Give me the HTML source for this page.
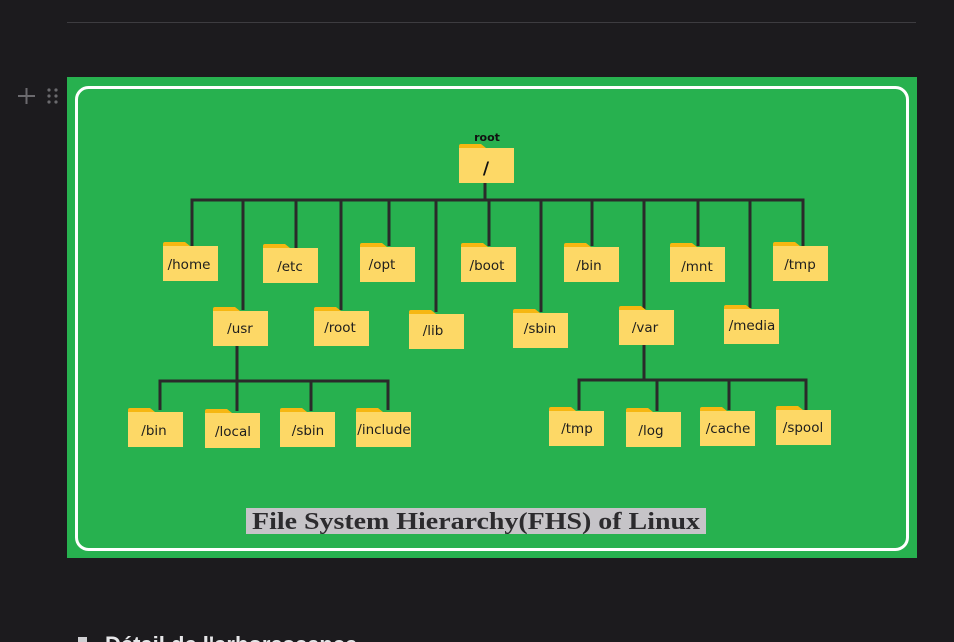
<!DOCTYPE html>
<html><head><meta charset="utf-8"><style>
html,body{margin:0;padding:0;background:#1c1b1e;width:954px;height:642px;overflow:hidden}
svg{position:absolute;left:0;top:0}
.t{font-family:"DejaVu Sans","Liberation Sans",sans-serif;font-size:13.5px;fill:#1e1e1e;text-anchor:middle}
</style></head><body>
<svg width="954" height="642" viewBox="0 0 954 642">
<defs>
<g id="f">
<path d="M0 2 Q0 0 2 0 L22 0 L27 4 L27 8 L0 8 Z" fill="#f6b712"/>
<rect x="0" y="4" width="55" height="35" fill="#fdd866"/>
</g>
</defs>
<line x1="67" y1="22.5" x2="916" y2="22.5" stroke="#3d3c40" stroke-width="1"/>
<g stroke="#6b6a6e" stroke-width="2"><line x1="18" y1="96" x2="35" y2="96"/><line x1="26.5" y1="88" x2="26.5" y2="104"/></g>
<g fill="#6b6a6e"><circle cx="49" cy="90" r="1.6"/><circle cx="56" cy="90" r="1.6"/><circle cx="49" cy="96" r="1.6"/><circle cx="56" cy="96" r="1.6"/><circle cx="49" cy="102" r="1.6"/><circle cx="56" cy="102" r="1.6"/></g>
<rect x="67" y="77" width="850" height="481" fill="#27b14f"/>
<rect x="76.5" y="87.5" width="831" height="462" rx="12" fill="none" stroke="#fff" stroke-width="3"/>
<g stroke="#2a2a2a" stroke-width="3" fill="none">
<line x1="485" y1="183" x2="485" y2="200"/>
<line x1="190.5" y1="200" x2="804.5" y2="200"/>
<line x1="192" y1="200" x2="192" y2="246"/>
<line x1="243" y1="200" x2="243" y2="310"/>
<line x1="296" y1="200" x2="296" y2="248"/>
<line x1="341" y1="200" x2="341" y2="310"/>
<line x1="389" y1="200" x2="389" y2="246"/>
<line x1="436" y1="200" x2="436" y2="312"/>
<line x1="489" y1="200" x2="489" y2="246"/>
<line x1="541" y1="200" x2="541" y2="312"/>
<line x1="592" y1="200" x2="592" y2="246"/>
<line x1="644" y1="200" x2="644" y2="310"/>
<line x1="698" y1="200" x2="698" y2="246"/>
<line x1="750" y1="200" x2="750" y2="308"/>
<line x1="803" y1="200" x2="803" y2="246"/>
<line x1="237" y1="345" x2="237" y2="381"/>
<line x1="158.5" y1="381" x2="389.5" y2="381"/>
<line x1="160" y1="381" x2="160" y2="410"/>
<line x1="237" y1="381" x2="237" y2="411"/>
<line x1="311" y1="381" x2="311" y2="411"/>
<line x1="388" y1="381" x2="388" y2="410"/>
<line x1="644" y1="343" x2="644" y2="380"/>
<line x1="577.5" y1="380" x2="807.5" y2="380"/>
<line x1="579" y1="380" x2="579" y2="410"/>
<line x1="657" y1="380" x2="657" y2="411"/>
<line x1="729" y1="380" x2="729" y2="410"/>
<line x1="806" y1="380" x2="806" y2="410"/>
</g>
<text x="487" y="141" style="font-family:'DejaVu Sans','Liberation Sans',sans-serif;font-size:11px;font-weight:bold;fill:#111;text-anchor:middle">root</text>
<use href="#f" x="459" y="144"/><text x="486" y="174" style="font-family:'DejaVu Sans',sans-serif;font-size:17px;font-weight:bold;fill:#111;text-anchor:middle">/</text>
<use href="#f" x="163" y="242"/><text class="t" x="189" y="269">/home</text>
<use href="#f" x="263" y="244"/><text class="t" x="290" y="271">/etc</text>
<use href="#f" x="360" y="243"/><text class="t" x="382" y="269">/opt</text>
<use href="#f" x="461" y="243"/><text class="t" x="487" y="270">/boot</text>
<use href="#f" x="564" y="243"/><text class="t" x="589" y="270">/bin</text>
<use href="#f" x="670" y="243"/><text class="t" x="697" y="271">/mnt</text>
<use href="#f" x="773" y="242"/><text class="t" x="800" y="269">/tmp</text>
<use href="#f" x="213" y="307"/><text class="t" x="240" y="333">/usr</text>
<use href="#f" x="314" y="307"/><text class="t" x="340" y="332">/root</text>
<use href="#f" x="409" y="310"/><text class="t" x="433" y="335">/lib</text>
<use href="#f" x="513" y="309"/><text class="t" x="540" y="333">/sbin</text>
<use href="#f" x="619" y="306"/><text class="t" x="645" y="332">/var</text>
<use href="#f" x="724" y="305"/><text class="t" x="752" y="330">/media</text>
<use href="#f" x="128" y="408"/><text class="t" x="154" y="435">/bin</text>
<use href="#f" x="205" y="409"/><text class="t" x="233" y="436">/local</text>
<use href="#f" x="280" y="408"/><text class="t" x="308" y="435">/sbin</text>
<use href="#f" x="356" y="408"/><text class="t" x="384" y="434">/include</text>
<use href="#f" x="549" y="407"/><text class="t" x="577" y="433">/tmp</text>
<use href="#f" x="626" y="408"/><text class="t" x="651" y="435">/log</text>
<use href="#f" x="700" y="407"/><text class="t" x="728" y="433">/cache</text>
<use href="#f" x="776" y="406"/><text class="t" x="803" y="432">/spool</text>
<rect x="246" y="508" width="460" height="26" fill="#c6c4c8"/>
<text x="252" y="529" textLength="448" lengthAdjust="spacingAndGlyphs" style="font-family:'Liberation Serif','DejaVu Serif',serif;font-size:24px;font-weight:bold;fill:#2c2b2e">File System Hierarchy(FHS) of Linux</text>
<rect x="78" y="637" width="9" height="5" fill="#cfcfd2"/>
<text x="105" y="652" style="font-family:'Liberation Sans',sans-serif;font-size:22px;font-weight:bold;fill:#e6e6e8">Détail de l'arborescence</text>
</svg>
</body></html>
